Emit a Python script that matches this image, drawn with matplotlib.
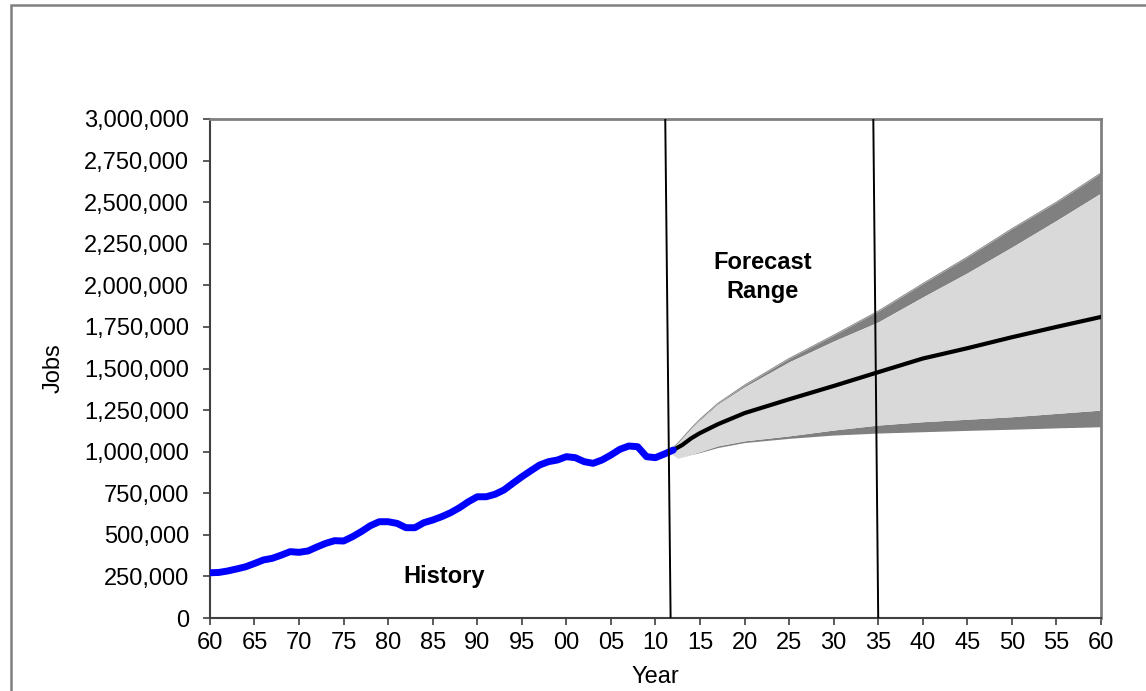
import numpy as np
import matplotlib
matplotlib.use('Agg')
from matplotlib import pyplot as plt
from matplotlib.ticker import FuncFormatter, MultipleLocator
from matplotlib.patches import Rectangle

plt.rcParams['font.family'] = ['Liberation Sans', 'DejaVu Sans']

# history (jobs)
hist_years = np.arange(1960, 2013)
hist_jobs = [272000, 274000, 283000, 295000, 308000, 328000, 349000, 359000, 378000, 399000,
             395000, 403000, 427000, 449000, 465000, 463000, 489000, 520000, 555000, 579000,
             579000, 569000, 543000, 543000, 573000, 589000, 609000, 633000, 663000, 699000,
             729000, 729000, 744000, 770000, 810000, 849000, 885000, 920000, 940000, 950000,
             970000, 964000, 940000, 930000, 950000, 980000, 1014000, 1034000, 1030000, 970000,
             964000, 986000, 1010000]

# forecast mean
fc_years = [2012, 2013, 2014, 2015, 2017, 2020, 2025, 2030, 2035, 2040, 2045, 2050, 2055, 2060]
fc_mean = [1010000, 1040000, 1080000, 1112000, 1165000, 1232000, 1315000, 1395000, 1478000,
           1560000, 1622000, 1688000, 1750000, 1810000]

# forecast range band
band_years = [2011.5, 2012.5, 2014, 2015, 2017, 2020, 2025, 2030, 2035, 2040, 2045, 2050,
              2055, 2060]
upper_outer = [1000000, 1050000, 1140000, 1195000, 1290000, 1400000, 1560000, 1700000,
               1845000, 2010000, 2170000, 2340000, 2500000, 2675000]
upper_inner = [1000000, 1050000, 1138000, 1190000, 1285000, 1390000, 1540000, 1665000,
               1780000, 1930000, 2075000, 2230000, 2390000, 2555000]
lower_inner = [1000000, 960000, 985000, 1000000, 1035000, 1065000, 1095000, 1130000,
               1160000, 1180000, 1195000, 1210000, 1230000, 1250000]
lower_outer = [1000000, 960000, 983000, 995000, 1025000, 1055000, 1080000, 1100000,
               1112000, 1120000, 1128000, 1135000, 1143000, 1150000]

# the two period markers (top year, bottom year)
marker_lines = [(2011.1, 2011.7), (2034.45, 2035.0)]

xtick_years = np.arange(1960, 2061, 5)
xtick_labels = ['%02d' % (y % 100) for y in xtick_years]

fig = plt.figure(figsize=(11.46, 6.91), dpi=100)
ax = fig.add_axes([0.1832, 0.1056, 0.9607 - 0.1832, 0.8278 - 0.1056])

# outer chart frame
fig.patches.append(Rectangle((11 / 1146, -0.1), 1.2, 1 - 5 / 691 + 0.1,
                             transform=fig.transFigure, fill=False,
                             edgecolor='#808080', linewidth=1.8))

ax.fill_between(band_years, upper_inner, upper_outer, color='#808080', linewidth=0)
ax.fill_between(band_years, lower_outer, lower_inner, color='#808080', linewidth=0)
ax.fill_between(band_years, lower_inner, upper_inner, color='#d9d9d9', linewidth=0)
ax.plot(band_years, upper_outer, color='#909090', lw=0.8)

ax.plot(hist_years, hist_jobs, color='#0000ff', lw=5, solid_joinstyle='round',
        solid_capstyle='round', zorder=4)
ax.plot(fc_years, fc_mean, color='black', lw=3, solid_joinstyle='round', zorder=3)

for top, bot in marker_lines:
    ax.plot([top, bot], [3000000, 0], color='black', lw=1.4, zorder=5)

ax.text(2022, 2050000, 'Forecast\nRange', ha='center', va='center',
        fontsize=17, fontweight='bold', linespacing=1.3)
ax.text(1986.3, 250000, 'History', ha='center', va='center', fontsize=17, fontweight='bold')

ax.set_xlim(1960, 2060)
ax.set_ylim(0, 3000000)
ax.set_xticks(xtick_years)
ax.set_xticklabels(xtick_labels)
ax.yaxis.set_major_locator(MultipleLocator(250000))
ax.yaxis.set_major_formatter(FuncFormatter(lambda v, p: '{:,.0f}'.format(v)))
ax.tick_params(axis='both', labelsize=17, direction='out', length=5, width=1.2,
               color='#404040')
ax.tick_params(axis='y', pad=10)
ax.tick_params(axis='x', pad=5)

for side in ['left', 'bottom']:
    ax.spines[side].set_color('#404040')
    ax.spines[side].set_linewidth(1.5)
for side in ['top', 'right']:
    ax.spines[side].set_color('#808080')
    ax.spines[side].set_linewidth(2)

ax.set_xlabel('Year', fontsize=17, labelpad=9)
ax.set_ylabel('Jobs', fontsize=17, labelpad=14)

fig.savefig('out.png', dpi=100)
